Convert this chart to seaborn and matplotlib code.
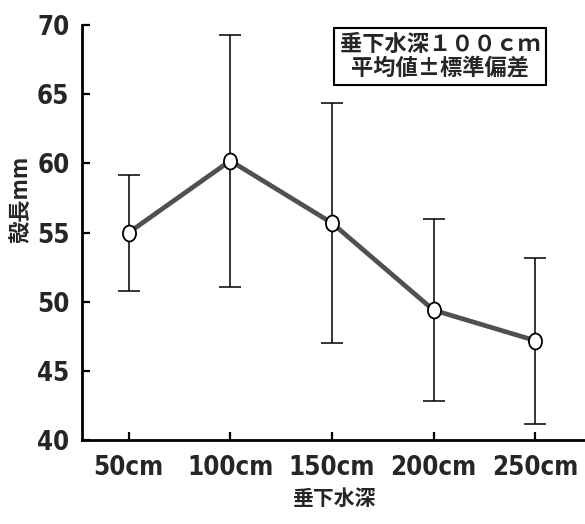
import numpy as np
import pandas as pd
import matplotlib
matplotlib.use("Agg")
import matplotlib.pyplot as plt
import seaborn as sns
from matplotlib.path import Path
from matplotlib.transforms import Affine2D

# ======================
# DATA
# ======================
depths = ["50cm", "100cm", "150cm", "200cm", "250cm"]
mean_len = [55.0, 60.2, 55.7, 49.4, 47.2]
sd_len = [4.2, 9.1, 8.7, 6.6, 6.0]
y_ticks = [40, 45, 50, 55, 60, 65, 70]

CJK = ["Noto Sans CJK JP", "DejaVu Sans"]
NUM = ["DejaVu Sans"]

sns.set_theme(style="ticks")
plt.rcParams["font.family"] = CJK

df = pd.DataFrame({"depth": depths, "length": mean_len, "sd": sd_len})
df["pos"] = np.arange(len(df))

# slightly upright ellipse as marker (like the scanned original)
ellipse = Path.unit_circle().transformed(Affine2D().scale(0.82, 1.0))

fig = plt.figure(figsize=(5.85, 5.24), dpi=100)
ax = fig.add_axes([0.140, 0.160, 0.86, 0.792])

# error bars (mean +- SD)
ax.errorbar(df["pos"], df["length"], yerr=df["sd"], fmt="none",
            ecolor="black", elinewidth=1.1, capsize=8, capthick=1.1, zorder=2)

# mean line
sns.lineplot(data=df, x="pos", y="length", ax=ax, color="#505050",
             linewidth=3.4, marker=ellipse, markersize=11.5,
             markerfacecolor="white", markeredgecolor="black",
             markeredgewidth=1.3, zorder=3)

ax.set_xlim(-0.46, 4.49)
ax.set_ylim(40, 70)
ax.set_xticks(df["pos"])
ax.set_xticklabels(depths)
ax.set_yticks(y_ticks)

for lab in ax.get_xticklabels() + ax.get_yticklabels():
    lab.set_family(NUM)
    lab.set_fontweight("bold")
    lab.set_fontstretch("condensed")
    lab.set_fontsize(18.5)

sns.despine(ax=ax)
for s in ["left", "bottom"]:
    ax.spines[s].set_linewidth(2)
    ax.spines[s].set_color("black")
ax.tick_params(axis="both", direction="in", length=6, width=1.6, color="black")
ax.tick_params(axis="y", pad=9)
ax.tick_params(axis="x", pad=11)

ax.set_xlabel("垂下水深", fontsize=15, fontweight="bold", labelpad=5)
ax.set_ylabel("殻長mm", fontsize=16, fontweight="bold")
ax.yaxis.set_label_coords(-0.098, 0.58)

ax.text(0.712, 0.925, "垂下水深１００ｃｍ\n平均値±標準偏差", transform=ax.transAxes,
        ha="center", va="center", fontsize=16, fontweight="bold",
        linespacing=1.0,
        bbox=dict(boxstyle="square,pad=0.25", facecolor="white",
                  edgecolor="black", linewidth=1.5))

fig.savefig("out.png", dpi=100)
plt.close(fig)
